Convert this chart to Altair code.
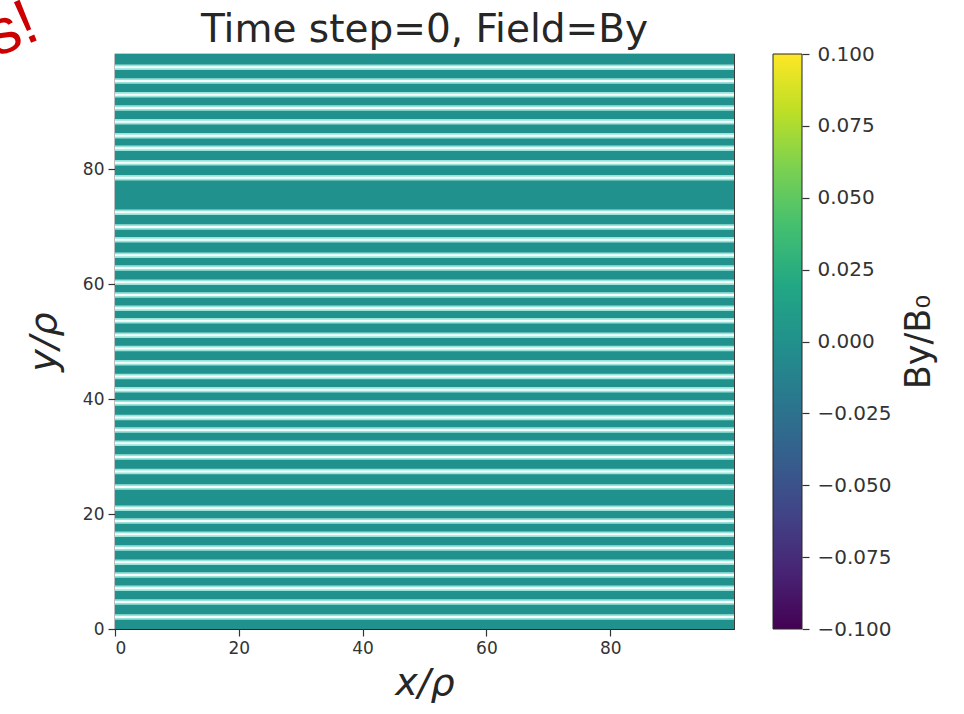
import altair as alt
import pandas as pd

# Simulation box (units of rho) and the By value filling it at step 0
x_extent = [0, 100]
y_extent = [0, 100]
by_value = [0.0]

# y positions of the thin bright sheets running across the box
stripe_y = [97.7, 95.3, 92.9, 90.6, 88.2, 85.8, 83.6, 81.1, 78.5,
            72.5, 69.9, 67.7, 65.0, 62.8, 60.3, 58.1, 55.8, 53.6, 51.1,
            48.8, 46.3, 43.9, 41.6, 39.3, 36.8, 34.6, 32.3, 29.9, 27.4, 24.7,
            21.0, 18.8, 16.5, 14.1, 11.6, 9.4, 7.1, 4.7, 2.1]

# Colour limits and tick values
cbar_limits = [-0.1, 0.1]
cbar_ticks = [-0.1, -0.075, -0.05, -0.025, 0.0, 0.025, 0.05, 0.075, 0.1]
x_ticks = [0, 20, 40, 60, 80]
y_ticks = [0, 20, 40, 60, 80]

# matplotlib viridis key colours for the colourbar strip
viridis_stops = ["#440154", "#482475", "#414487", "#355f8d", "#2a788e",
                 "#21918c", "#22a884", "#44bf70", "#7ad151", "#bddf26",
                 "#fde725"]

TITLE = "Time step=0, Field=By"
FONT = "DejaVu Sans"
INK = "#262626"

field_df = pd.DataFrame({"x0": [x_extent[0]], "x1": [x_extent[1]],
                         "y0": [y_extent[0]], "y1": [y_extent[1]],
                         "By": by_value})
stripe_df = pd.DataFrame({"y": stripe_y})
cbar_df = pd.DataFrame({"lo": [cbar_limits[0]], "hi": [cbar_limits[1]],
                        "c0": [0], "c1": [1]})

xs = alt.Scale(domain=x_extent, nice=False, zero=False)
ys = alt.Scale(domain=y_extent, nice=False, zero=False)

y_axis = alt.Axis(values=y_ticks, title="y/ρ", titleFontSize=38,
                  titleFontStyle="italic", titleFontWeight="normal",
                  titlePadding=19, labelPadding=4)

field = alt.Chart(field_df).mark_rect().encode(
    x=alt.X("x0:Q", scale=xs,
            axis=alt.Axis(values=x_ticks, title="x/ρ", titleFontSize=38,
                          titleFontStyle="italic", titleFontWeight="normal",
                          titlePadding=8, labelPadding=4)),
    x2="x1:Q",
    y=alt.Y("y0:Q", scale=ys, axis=y_axis),
    y2="y1:Q",
    color=alt.Color("By:Q", scale=alt.Scale(scheme="viridis", domain=cbar_limits),
                    legend=None),
)

halo = alt.Chart(stripe_df).mark_rule(color="#98e4da", strokeWidth=5.5).encode(
    y=alt.Y("y:Q", scale=ys, axis=y_axis))
core = alt.Chart(stripe_df).mark_rule(color="#f6fffe", strokeWidth=2).encode(
    y=alt.Y("y:Q", scale=ys, axis=y_axis))

main = alt.layer(field, halo, core)

gradient = alt.Gradient(
    gradient="linear", x1=0, x2=0, y1=1, y2=0,
    stops=[alt.GradientStop(color=c, offset=i / (len(viridis_stops) - 1))
           for i, c in enumerate(viridis_stops)])

cbar = alt.Chart(cbar_df).mark_rect(color=gradient, stroke=INK, strokeWidth=1).encode(
    x=alt.X("c0:Q", scale=alt.Scale(domain=[0, 1], range=[658, 687]), axis=None),
    x2="c1:Q",
    y=alt.Y("lo:Q", scale=alt.Scale(domain=cbar_limits, nice=False, zero=False),
            axis=alt.Axis(orient="right", offset=68, values=cbar_ticks,
                          format=".3f", title="By/B₀", titleAngle=270,
                          titleFontSize=35, titleFontWeight="normal",
                          titlePadding=45, labelPadding=8, labelFontSize=20)),
    y2="hi:Q",
)

# Plot heading, centred over the field panel
heading = alt.Chart(pd.DataFrame({"t": [TITLE]})).mark_text(
    font=FONT, fontSize=39, color=INK, align="center", baseline="alphabetic",
).encode(text="t:N", x=alt.value(309.5), y=alt.value(-12))

note = alt.Chart(pd.DataFrame({"t": ["s!"]})).mark_text(
    font="Liberation Sans", fontSize=64, color="#cc0000", align="right",
    baseline="alphabetic", angle=337,
).encode(text="t:N", x=alt.value(-73), y=alt.value(-16))

chart = alt.layer(main, cbar, heading, note).resolve_scale(
    x="independent", y="independent"
).properties(
    width=619, height=575,
    padding={"left": 115, "top": 54, "right": 230, "bottom": 85},
    autosize=alt.AutoSizeParams(type="none"),
    background="white",
).configure_view(
    stroke=INK, strokeWidth=1.2
).configure_axis(
    grid=False, domain=False, labelFont=FONT, titleFont=FONT,
    labelFontSize=17, labelColor="#333333", titleColor=INK,
    tickColor="#333333", tickSize=7, tickWidth=1.2,
)

chart.save("out.html", embed_options={"renderer": "svg", "actions": False})
